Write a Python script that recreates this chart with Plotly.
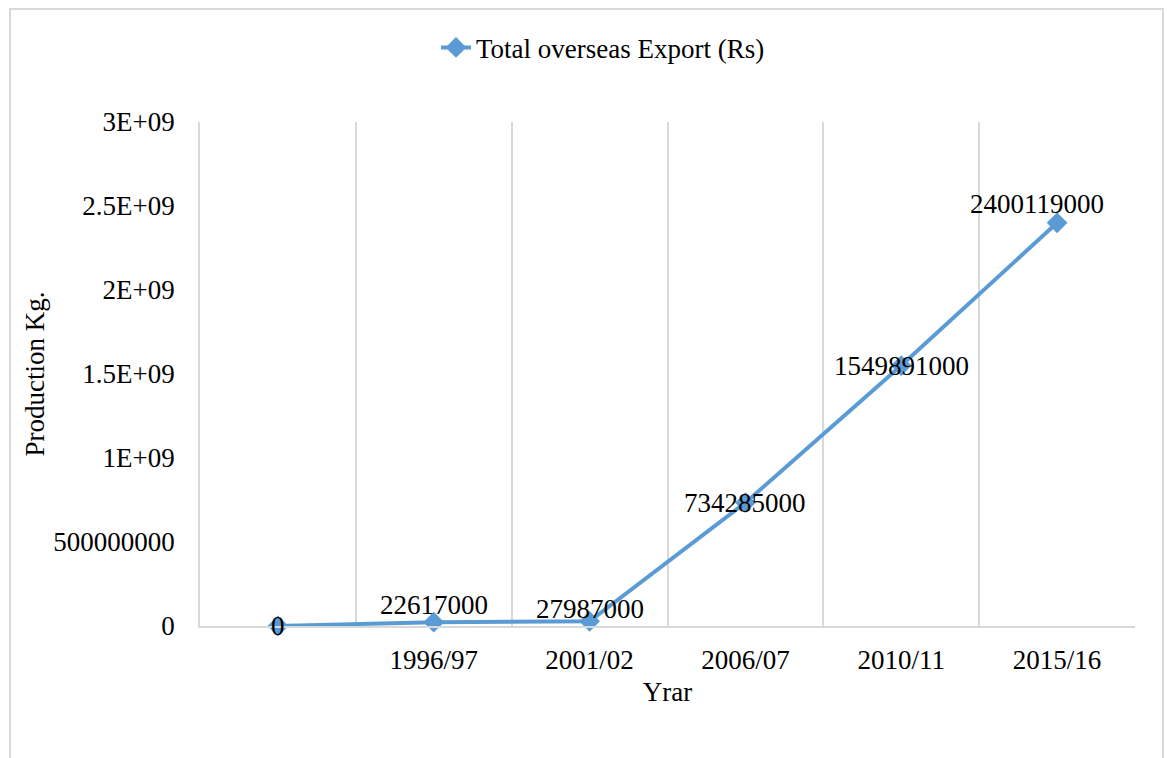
import plotly.graph_objects as go

# Export values by period (first category is an unlabeled baseline)
years = ["", "1996/97", "2001/02", "2006/07", "2010/11", "2015/16"]
export_rs = [0, 22617000, 27987000, 734285000, 1549891000, 2400119000]

y_tick_vals = [0, 500000000, 1000000000, 1500000000, 2000000000, 2500000000, 3000000000]
y_tick_text = ["0", "500000000", "1E+09", "1.5E+09", "2E+09", "2.5E+09", "3E+09"]

# label offsets (pixels) for the value labels
label_yshift = [0, 17, 12, 0, 0, 19]
label_xshift = [0, 0, 0, 0, 0, -20]

FONT = "Liberation Serif, Times New Roman, serif"
FS = 27
BLUE = "#5B9BD5"
GRID = "#D9D9D9"

xs = list(range(len(years)))

fig = go.Figure()
fig.add_trace(go.Scatter(
    x=xs, y=export_rs,
    mode="lines+markers",
    name="Total overseas Export (Rs)",
    line=dict(color=BLUE, width=4),
    marker=dict(symbol="diamond", size=16, color=BLUE),
    cliponaxis=False,
))

for xv, yv, dy, dx in zip(xs, export_rs, label_yshift, label_xshift):
    fig.add_annotation(
        x=xv, y=yv, text=str(yv), showarrow=False,
        yshift=dy, xshift=dx,
        font=dict(family=FONT, size=FS, color="#000000"),
    )

# outer chart border
fig.add_shape(type="rect", xref="paper", yref="paper",
              x0=-0.2032, x1=1.0299, y0=-0.30, y1=1.2242,
              line=dict(color=GRID, width=2), fillcolor="rgba(0,0,0,0)",
              layer="below")

fig.update_layout(
    width=1167, height=758,
    margin=dict(l=200, r=32, t=122, b=132),
    paper_bgcolor="white", plot_bgcolor="white",
    font=dict(family=FONT, size=FS, color="#000000"),
    showlegend=True,
    legend=dict(orientation="h", x=0.431, xanchor="center",
                y=1.147, yanchor="middle",
                font=dict(family=FONT, size=FS, color="#000000"),
                bgcolor="rgba(0,0,0,0)"),
    xaxis=dict(
        range=[-0.5, 5.5],
        tickmode="array", tickvals=xs, ticktext=years,
        showgrid=False, zeroline=False,
        showline=True, linecolor=GRID, linewidth=1.5,
        ticks="", ticklabelstandoff=9,
        minor=dict(tickmode="linear", tick0=-0.5, dtick=1,
                   showgrid=True, gridcolor=GRID, gridwidth=1.5, ticks=""),
        title=dict(text="Yrar", standoff=8,
                   font=dict(family=FONT, size=FS, color="#000000")),
    ),
    yaxis=dict(
        range=[0, 3000000000],
        tickmode="array", tickvals=y_tick_vals, ticktext=y_tick_text,
        showgrid=False, zeroline=False,
        showline=True, linecolor=GRID, linewidth=1.5,
        ticks="", ticklabelstandoff=18,
        title=dict(text="Production Kg.", standoff=1,
                   font=dict(family=FONT, size=FS, color="#000000")),
    ),
)

fig.write_html("out.html")
